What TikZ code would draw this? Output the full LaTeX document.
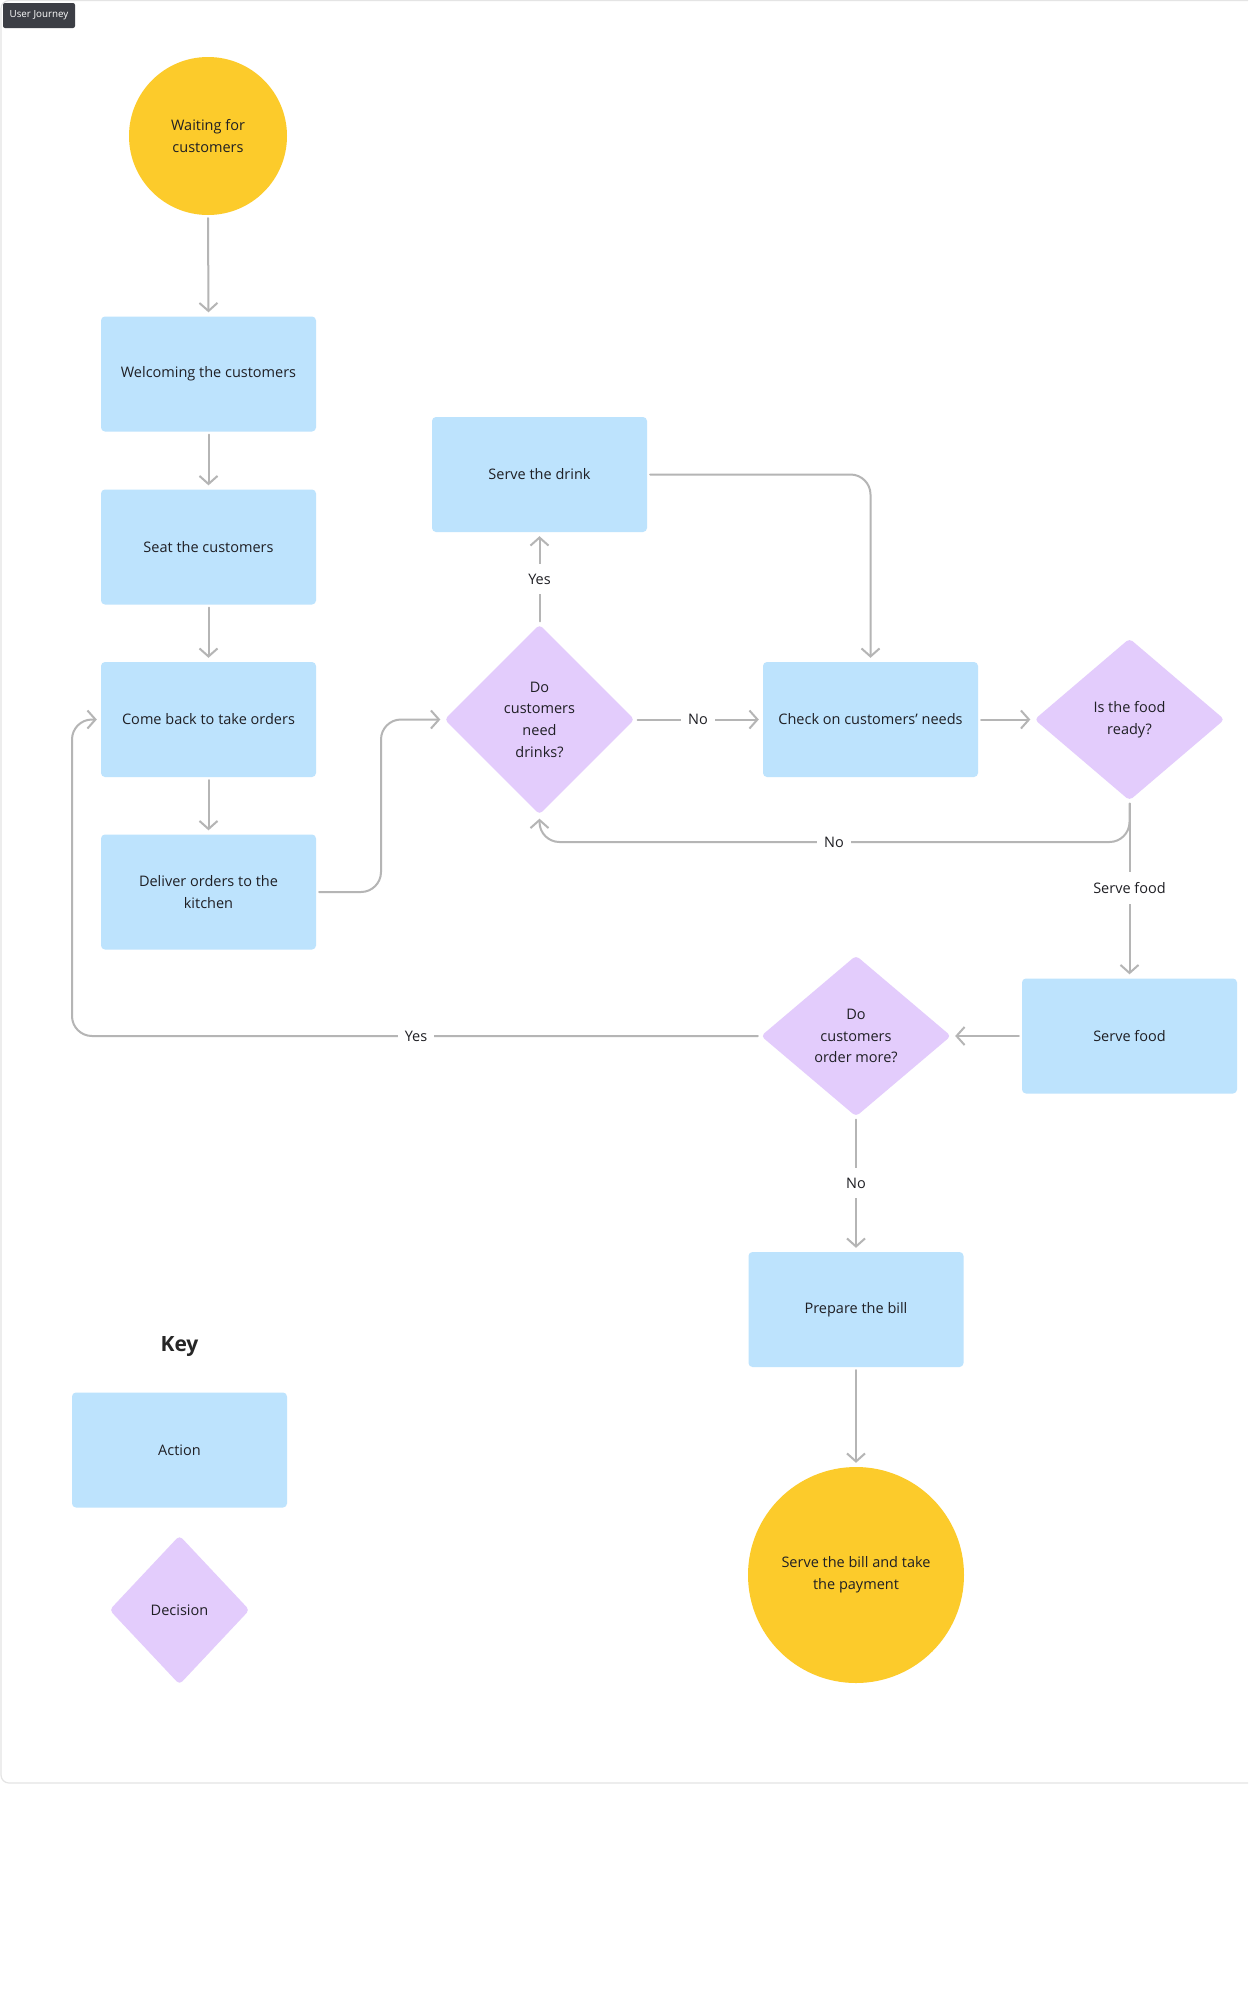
\documentclass[tikz,border=0pt]{standalone}
\usepackage{fontspec}
\setmainfont{Open Sans}
\usetikzlibrary{shapes.geometric,arrows.meta}
\definecolor{ybg}{HTML}{FCCB2B}
\definecolor{bbg}{HTML}{BDE3FD}
\definecolor{pbg}{HTML}{E3CCFC}
\definecolor{lnc}{HTML}{B5B5B5}
\definecolor{txc}{HTML}{1F1F24}
\definecolor{frm}{HTML}{E4E4E4}
\definecolor{tagc}{HTML}{3C3E45}
\begin{document}
\begin{tikzpicture}[x=1pt,y=-1pt,
  every node/.style={font=\fontsize{14.5}{21.7}\selectfont, text=txc},
  act/.style={fill=bbg, rounded corners=4pt, minimum width=215pt, minimum height=115pt, inner sep=0pt, align=center},
  dec/.style={diamond, fill=pbg, rounded corners=4pt, inner sep=0pt, align=center},
  term/.style={circle, fill=ybg, inner sep=0pt, align=center},
  conn/.style={draw=lnc, line width=2pt, line cap=round, line join=round, rounded corners=20pt,
    -{Straight Barb[length=8pt,width=18pt]}, shorten <=3pt, shorten >=4pt},
  lbl/.style={fill=white, inner xsep=7pt, inner ysep=10pt}]
\useasboundingbox (0,0) rectangle (1248,2000);
\clip (0,0) rectangle (1248,2000);
\fill[white] (0,0) rectangle (1248,2000);
% frame
\draw[frm, line width=1.2pt, rounded corners=8pt] (1,0.6) rectangle (1300,1783);
\node[fill=tagc, rounded corners=2pt, text=white, font=\fontsize{9.8}{11}\selectfont,
  minimum width=72pt, minimum height=25pt, inner sep=0pt] (tag) at (39,15.5) {User Journey};

% shapes
\node[term, minimum size=158pt] (wait) at (208,136) {Waiting for\\customers};
\node[act] (welc) at (208.5,374) {Welcoming the customers};
\node[act] (seat) at (208.5,547) {Seat the customers};
\node[act] (back) at (208.5,719.5) {Come back to take orders};
\node[act] (deli) at (208.5,892) {Deliver orders to the\\kitchen};
\node[act] (drink) at (539.5,474.5) {Serve the drink};
\node[dec, minimum width=190pt, minimum height=190pt] (dd) at (539.5,719.5) {Do\\customers\\need\\drinks?};
\node[act] (check) at (870.5,719.5) {Check on customers’ needs};
\node[dec, minimum width=190pt, minimum height=162pt] (food) at (1129.5,719.5) {Is the food\\ready?};
\node[act] (serve) at (1129.5,1036) {Serve food};
\node[dec, minimum width=190pt, minimum height=161pt] (more) at (856,1036) {Do\\customers\\order more?};
\node[act] (bill) at (856,1309.5) {Prepare the bill};
\node[term, minimum size=216pt] (pay) at (856,1575) {Serve the bill and take\\the payment};

% key
\node[font=\bfseries\fontsize{21}{24}\selectfont, text=black!85] (key) at (179.5,1347) {Key};
\node[act] (kact) at (179.5,1450) {Action};
\node[dec, minimum width=140pt, minimum height=149pt] (kdec) at (179.5,1610) {Decision};

% connectors
\draw[conn] (wait.south) -- (welc.north);
\draw[conn] (welc.south) -- (seat.north);
\draw[conn] (seat.south) -- (back.north);
\draw[conn] (back.south) -- (deli.north);
\draw[conn] (deli.east) -- (381,892) -- (381,719.5) -- (dd.west);
\draw[conn] (dd.north) -- (drink.south);
\draw[conn] (dd.east) -- (check.west);
\draw[conn] (drink.east) -- (870.5,474.5) -- (check.north);
\draw[conn] (check.east) -- (food.west);
\draw[conn] (food.south) -- (1129.5,842) -- (539.5,842) -- (dd.south);
\draw[conn] (food.south) -- (serve.north);
\draw[conn] (serve.west) -- (more.east);
\draw[conn] (more.west) -- (72,1036) -- (72,719.5) -- (back.west);
\draw[conn] (more.south) -- (bill.north);
\draw[conn] (bill.south) -- (pay.north);

% connector labels
\node[lbl] (lyes1) at (539.5,579) {Yes};
\node[lbl] (lno1) at (698,719.5) {No};
\node[lbl] (lno2) at (834,842) {No};
\node[lbl] (lsf) at (1129.5,888) {Serve food};
\node[lbl] (lyes2) at (416,1036) {Yes};
\node[lbl] (lno3) at (856,1183) {No};
\end{tikzpicture}
\end{document}
